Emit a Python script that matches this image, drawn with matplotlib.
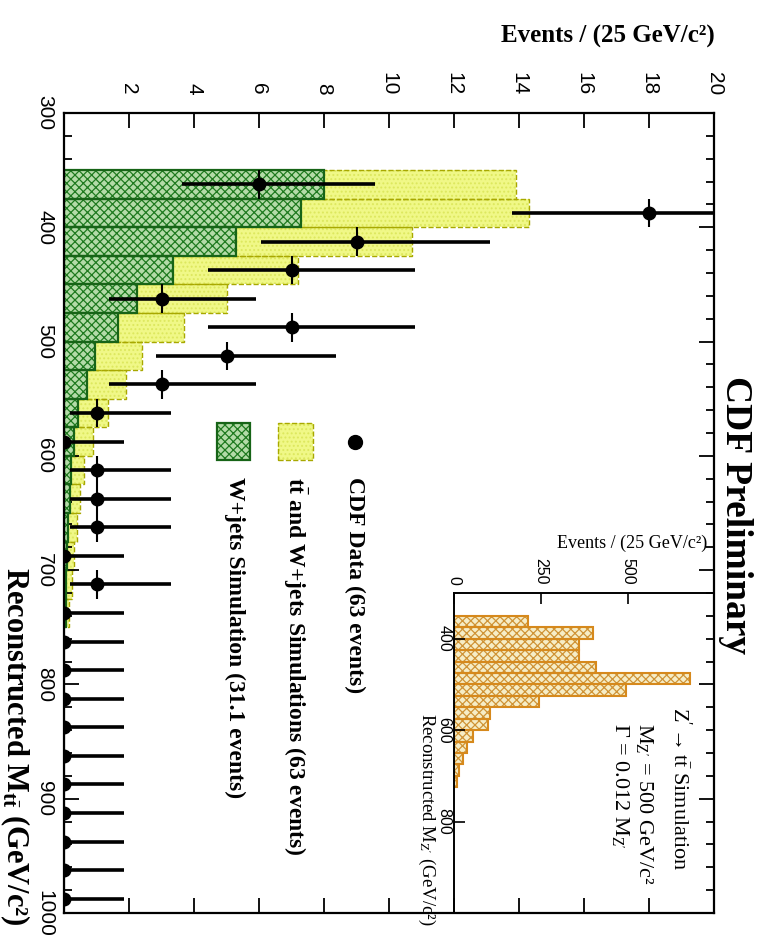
import numpy as np
import matplotlib
matplotlib.use('Agg')
import matplotlib.pyplot as plt
from matplotlib.patches import Rectangle
from matplotlib.ticker import MultipleLocator

plt.rcParams['mathtext.fontset'] = 'custom'
plt.rcParams['mathtext.rm'] = 'Liberation Serif'
plt.rcParams['mathtext.it'] = 'Liberation Serif:italic'
plt.rcParams['mathtext.bf'] = 'Liberation Serif:bold'
plt.rcParams['hatch.linewidth'] = 0.9
SERIF = ['Liberation Serif', 'DejaVu Serif']
SANS = 'Liberation Sans'

# ---- data (25 GeV bins) ----
sim_edges = [350, 375, 400, 425, 450, 475, 500, 525, 550, 575, 600, 625, 650, 675, 700, 725]
tt_wjets = [13.9, 14.3, 10.7, 7.2, 5.0, 3.7, 2.4, 1.9, 1.35, 0.9, 0.6, 0.5, 0.4, 0.3, 0.25, 0.15]
wjets = [8.0, 7.3, 5.3, 3.35, 2.25, 1.65, 0.95, 0.7, 0.43, 0.3, 0.22, 0.17, 0.12, 0.1, 0.07, 0.05]

data_mass = [362.5, 387.5, 412.5, 437.5, 462.5, 487.5, 512.5, 537.5, 562.5, 587.5,
             612.5, 637.5, 662.5, 687.5, 712.5, 737.5, 762.5, 787.5, 812.5, 837.5,
             862.5, 887.5, 912.5, 937.5, 962.5, 987.5]
data_n = [6, 18, 9, 7, 3, 7, 5, 3, 1, 0, 1, 1, 1, 0, 1, 0, 0, 0, 0, 0, 0, 0, 0, 0, 0, 0]
data_lo = [3.62, 13.79, 6.07, 4.42, 1.37, 4.42, 2.84, 1.37, 0.17, 0, 0.17, 0.17, 0.17, 0, 0.17,
           0, 0, 0, 0, 0, 0, 0, 0, 0, 0, 0]
data_hi = [9.58, 23.3, 13.1, 10.8, 5.92, 10.8, 8.38, 5.92, 3.3, 1.84, 3.3, 3.3, 3.3, 1.84, 3.3,
           1.84, 1.84, 1.84, 1.84, 1.84, 1.84, 1.84, 1.84, 1.84, 1.84, 1.84]

zp_edges = [350, 375, 400, 425, 450, 475, 500, 525, 550, 575, 600, 625, 650, 675, 700]
zp_events = [213, 400, 360, 360, 408, 678, 496, 244, 103, 98, 55, 37, 25, 15, 10]

W, H = 758, 943


def fx(px):
    return px / W


def fy(py):
    return 1 - py / H


fig = plt.figure(figsize=(W / 100, H / 100), dpi=100)

# ---- main axes (drawn rotated: mass runs down, events run right) ----
ax = fig.add_axes([fx(64), fy(913), 650 / W, 800 / H])
ax.set_xlim(0, 20)
ax.set_ylim(1000, 300)

ax.barh(sim_edges, tt_wjets, height=25, align='edge', facecolor='#f0f887',
        edgecolor='#dde85e', hatch='....', linewidth=0, zorder=1)
ax.barh(sim_edges, tt_wjets, height=25, align='edge', fill=False,
        edgecolor='#a8a800', linestyle='--', linewidth=1.0, zorder=1.5)
ax.barh(sim_edges, wjets, height=25, align='edge', facecolor='#b4dba8',
        edgecolor='#1f7a1f', hatch='xxxx', linewidth=0, zorder=2)
ax.barh(sim_edges, wjets, height=25, align='edge', fill=False,
        edgecolor='#176417', linewidth=1.6, zorder=2.5)

n = np.array(data_n, dtype=float)
xerr = [n - np.array(data_lo), np.array(data_hi) - n]
ax.errorbar(n, data_mass, xerr=xerr, fmt='none', ecolor='k', elinewidth=2.6, zorder=4)
ax.errorbar(n, data_mass, yerr=12.5, fmt='o', color='k', ms=9, elinewidth=1.5, zorder=5)

ax.set_xticks(np.arange(2, 21, 2))
ax.set_yticks(np.arange(300, 1001, 100))
ax.yaxis.set_minor_locator(MultipleLocator(20))
ax.xaxis.tick_top()
ax.tick_params(axis='both', which='both', direction='in', top=True, bottom=True,
               left=True, right=True, labeltop=True, labelbottom=False,
               labelleft=True, labelright=False, labelsize=15,
               labelfontfamily=SANS, width=1.3)
ax.tick_params(axis='x', which='major', length=11, pad=13, labelrotation=-90)
ax.tick_params(axis='y', which='major', length=11, pad=7, labelrotation=-90)
ax.tick_params(axis='y', which='minor', length=6)
for lab in ax.get_yticklabels():
    lab.set_va('center')
for s in ax.spines.values():
    s.set_linewidth(1.6)

# ---- legend (hand placed, rotated) ----
def ax_xy(px, py):
    return (px - 64) / 650, (913 - py) / 800


x0, y0 = ax_xy(355, 442)
ax.plot([x0], [y0], 'o', color='k', ms=10, transform=ax.transAxes, clip_on=False)
x0, y0 = ax_xy(278, 460)
ax.add_patch(Rectangle((x0, y0), 35 / 650, 37 / 800, transform=ax.transAxes,
                       facecolor='#f0f887', edgecolor='#dde85e', hatch='....', lw=0))
ax.add_patch(Rectangle((x0, y0), 35 / 650, 37 / 800, transform=ax.transAxes,
                       fill=False, edgecolor='#a8a800', ls='--', lw=1.0))
x0, y0 = ax_xy(217, 460)
ax.add_patch(Rectangle((x0, y0), 33 / 650, 37 / 800, transform=ax.transAxes,
                       facecolor='#b4dba8', edgecolor='#1f7a1f', hatch='xxxx', lw=0))
ax.add_patch(Rectangle((x0, y0), 33 / 650, 37 / 800, transform=ax.transAxes,
                       fill=False, edgecolor='#176417', lw=1.6))

leg_kw = dict(rotation=-90, ha='center', va='top', fontsize=17, fontweight='bold',
              family=SERIF)
fig.text(fx(355), fy(477), 'CDF Data (63 events)', **leg_kw)
fig.text(fx(295), fy(477), r't$\mathbf{\bar{t}}$ and W+jets Simulations (63 events)', **leg_kw)
fig.text(fx(235), fy(477), 'W+jets Simulation (31.1 events)', **leg_kw)

# titles
fig.text(fx(715), fy(36), 'Events / (25 GeV/c²)', ha='right', va='center',
         fontsize=18, fontweight='bold', family=SERIF)
fig.text(fx(15), fy(567), r'Reconstructed $\mathbf{M_{t\bar{t}}}$ (GeV/c²)', rotation=-90,
         ha='center', va='top', fontsize=22, fontweight='bold', family=SERIF)
fig.text(fx(735), fy(376), 'CDF Preliminary', rotation=-90, ha='center', va='top',
         fontsize=27, fontweight='bold', family=SERIF)

# ---- inset: Z' simulation ----
axi = fig.add_axes([fx(454), fy(913), 259 / W, 320 / H], facecolor='none')
axi.set_xlim(0, 745)
axi.set_ylim(1000, 300)
axi.barh(zp_edges, zp_events, height=25, align='edge', facecolor='#f6edc6',
         edgecolor='#cf9336', hatch='xxxx', linewidth=0)
axi.barh(zp_edges, zp_events, height=25, align='edge', fill=False,
         edgecolor='#d6891c', linewidth=1.5)
axi.set_xticks([0, 250, 500])
axi.set_yticks([400, 600, 800])
axi.xaxis.tick_top()
axi.tick_params(axis='both', direction='in', length=8, width=1.2, labelsize=11.5,
                labelfontfamily=SANS)
axi.tick_params(axis='x', pad=6, labelrotation=-90)
axi.tick_params(axis='y', pad=2, labelrotation=-90)
for lab in axi.get_yticklabels():
    lab.set_va('center')
axi.spines['right'].set_visible(False)
axi.spines['bottom'].set_visible(False)
for s in ['left', 'top']:
    axi.spines[s].set_linewidth(1.4)

fig.text(fx(707), fy(543), 'Events / (25 GeV/c²)', ha='right', va='center',
         fontsize=13, family=SERIF)
fig.text(fx(427), fy(713), r'Reconstructed $\mathrm{M_{Z^{\prime}}}$ (GeV/c²)', rotation=-90,
         ha='center', va='top', fontsize=13.5, family=SERIF)
in_kw = dict(rotation=-90, ha='center', va='top', fontsize=16, family=SERIF)
fig.text(fx(680), fy(707), r'$\mathrm{Z^{\prime}\rightarrow t\bar{t}}$ Simulation', **in_kw)
fig.text(fx(645), fy(723), r'$\mathrm{M_{Z^{\prime}}}$ = 500 GeV/c²', **in_kw)
fig.text(fx(621), fy(723), r'$\Gamma$ = 0.012 $\mathrm{M_{Z^{\prime}}}$', **in_kw)

fig.savefig('out.png', dpi=100)
